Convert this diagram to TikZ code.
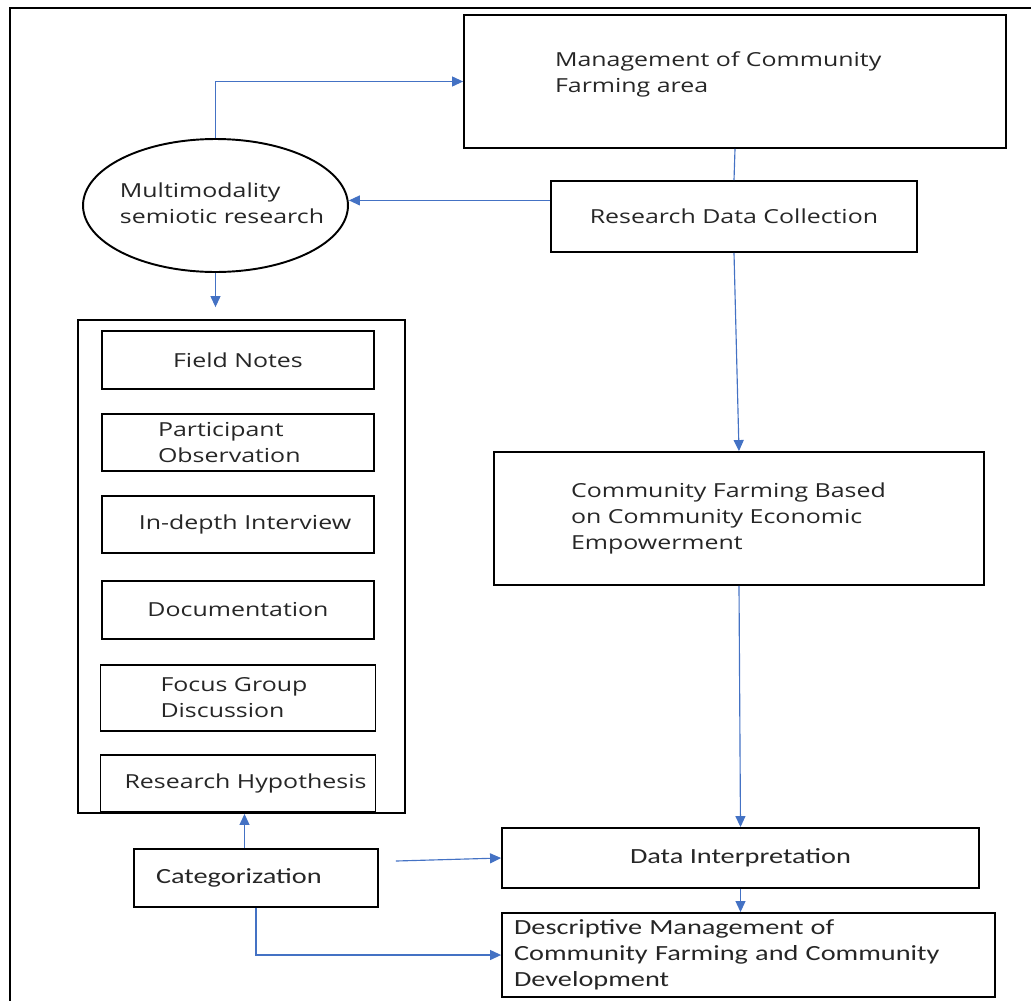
\documentclass[tikz,border=0pt]{standalone}
\usepackage{fontspec}
\setmainfont{Open Sans}[FakeStretch=1.29]
\newfontfamily\calfont{Carlito}[FakeStretch=1.31]
\usetikzlibrary{positioning, arrows.meta, shapes.geometric}
\definecolor{arrblue}{RGB}{68,114,196}
\tikzset{dbox/.style={draw, line width=1.1pt, inner sep=0pt, text=black!85, font=\fontsize{11}{14.7}\selectfont}}
\tikzset{dcal/.style={dbox, font=\calfont\fontsize{12.3}{14.7}\selectfont}}
\tikzset{lpad/.style args={#1/#2}{text width=#2, inner xsep=#1, align=left}}
\tikzset{link/.style={draw=arrblue, line width=0.65pt}}
\tikzset{arr/.style={link, -{Triangle[length=0.22cm, width=0.2cm]}}}
\tikzset{frame/.style={draw, line width=1.1pt}}

\begin{document}
\begin{tikzpicture}[x=0.02cm, y=-0.02cm]
	\useasboundingbox (0,0) rectangle (1031,1001);
	\draw[frame] (1031,8) -- (10,8) -- (10,1001);

	% top of the chart
	\node[dbox, lpad=1.82cm/7.2cm, minimum height=2.66cm] (mgmt) at (735,81.5)
		{Management of Community\\Farming area\\[-4pt]\mbox{}};
	\node[dbox, minimum width=7.32cm, minimum height=1.42cm] (rdc) at (734,216.5)
		{Research Data Collection};
	\node[dbox, ellipse, minimum width=5.3cm, minimum height=2.66cm] (mms) at (215.5,205.5)
		{\makebox[0pt]{\hspace{0.26cm}\begin{tabular}{@{}l@{}}Multimodality\\semiotic research\end{tabular}}};

	% methods column
	\node[dbox, minimum width=6.54cm, minimum height=9.86cm] (methods) at (241.5,566.5) {};
	\node[dbox, minimum width=5.44cm, minimum height=1.16cm] (notes) at (238,360) {Field Notes};
	\node[dbox, lpad=1.12cm/3.2cm, minimum height=1.14cm, below=0.46cm of notes] (observ)
		{Participant\\Observation};
	\node[dbox, minimum width=5.44cm, minimum height=1.14cm, below=0.46cm of observ] (interv)
		{\hspace*{0.28cm}In-depth Interview};
	\node[dbox, minimum width=5.44cm, minimum height=1.16cm, below=0.52cm of interv] (docum)
		{Documentation};
	\node[dbox, lpad=1.2cm/3.1cm, minimum height=1.32cm, below=0.48cm of docum] (focus)
		{Focus Group\\Discussion};
	\node[dbox, minimum width=5.5cm, minimum height=1.14cm, below=0.44cm of focus] (hypo)
		{\hspace*{0.3cm}Research Hypothesis};

	% right column and bottom
	\node[dbox, lpad=1.54cm/6.72cm, minimum height=2.66cm] (cfarm) at (739,518.5)
		{Community Farming Based\\on Community Economic\\Empowerment};
	\node[dcal, lpad=0.44cm/4.0cm, minimum height=1.16cm] (categ) at (256,878) {Categorization};
	\node[dcal, minimum width=9.54cm, minimum height=1.2cm] (interp) at (740.5,858)
		{Data Interpretation};
	\node[dcal, lpad=0.24cm/9.38cm, minimum height=1.68cm] (descr) at (748.5,955)
		{Descriptive Management of\\Community Farming and Community\\Development};

	% connectors
	\draw[arr] (mms.north) |- (mgmt.west);
	\draw[arr] (rdc.175) -- (rdc.175 -| mms.east);
	\draw[link] (mgmt.south) -- (rdc.north);
	\draw[arr, shorten >=0.24cm] (mms.south) -- (mms.south |- methods.north);
	\draw[arr] (rdc.south) -- (cfarm.north);
	\draw[arr] (cfarm.south) -- (interp.north);
	\draw[arr] (interp.south) -- (interp.south |- descr.north);
	\draw[arr] (categ.111) -- (categ.111 |- methods.south);
	\draw[arr] ([xshift=0.34cm, yshift=0.34cm]categ.east) -- (interp.west);
	\draw[arr] (categ.south) |- (descr.west);
\end{tikzpicture}
\end{document}
